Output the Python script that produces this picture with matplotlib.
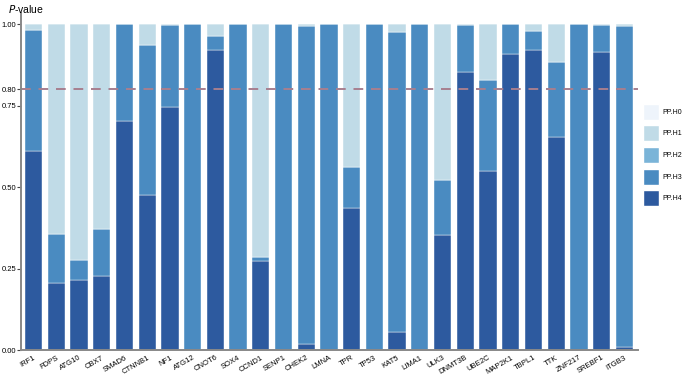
import matplotlib.pyplot as plt
from matplotlib.patches import Patch
import numpy as np

plt.rcParams['font.family'] = ['Liberation Sans', 'DejaVu Sans']

# genes and colocalisation posterior probabilities
genes = ["IRF1", "FDPS", "ATG10", "CBX7", "SMAD6", "CTNNB1", "NF1", "ATG12", "CNOT6",
         "SOX4", "CCND1", "SENP1", "CHEK2", "LMNA", "TPR", "TP53", "KAT5", "LIMA1",
         "ULK3", "DNMT3B", "UBE2C", "MAP2K1", "TBPL1", "TTK", "ZNF217", "SREBF1", "ITGB3"]
pp_h4 = [0.61, 0.205, 0.216, 0.227, 0.703, 0.475, 0.747, 0.0, 0.921,
         0.0, 0.273, 0.0, 0.017, 0.0, 0.437, 0.0, 0.055, 0.0,
         0.353, 0.852, 0.549, 0.909, 0.922, 0.653, 0.0, 0.915, 0.008]
pp_h3 = [0.372, 0.150, 0.061, 0.143, 0.297, 0.460, 0.250, 1.0, 0.043,
         1.0, 0.013, 1.0, 0.978, 1.0, 0.126, 1.0, 0.921, 1.0,
         0.169, 0.146, 0.279, 0.091, 0.057, 0.230, 1.0, 0.081, 0.987]
pp_h2 = [0.0] * 27
pp_h1 = [0.018, 0.645, 0.723, 0.630, 0.0, 0.065, 0.003, 0.0, 0.036,
         0.0, 0.714, 0.0, 0.005, 0.0, 0.437, 0.0, 0.024, 0.0,
         0.478, 0.002, 0.172, 0.0, 0.021, 0.117, 0.0, 0.004, 0.005]
pp_h0 = [0.0] * 27

labels = ["PP.H0", "PP.H1", "PP.H2", "PP.H3", "PP.H4"]
colors = ["#eef4fb", "#c0dbe7", "#7ab4d8", "#4a8bc1", "#2d5a9f"]

fig = plt.figure(figsize=(6.85, 3.76), dpi=100)
ax = fig.add_axes([0.0307, 0.0691, 0.9007, 0.897])

x = np.arange(len(genes))
series = [pp_h4, pp_h3, pp_h2, pp_h1, pp_h0]
series_colors = [colors[4], colors[3], colors[2], colors[1], colors[0]]
bottom = np.zeros(len(genes))
for vals, c in zip(series, series_colors):
    vals = np.array(vals)
    ax.bar(x, vals, bottom=bottom, width=0.76, color=c, edgecolor='white', linewidth=0.3)
    bottom += vals

ax.axhline(0.8, color='#a77f8f', linestyle=(0, (5, 4)), linewidth=1.4)

ax.set_xlim(-0.55, 26.6)
ax.set_ylim(0, 1.035)
ax.set_yticks([0, 0.25, 0.5, 0.75, 0.8, 1.0])
ax.set_yticklabels(["0.00", "0.25", "0.50", "0.75", "0.80", "1.00"])
ax.set_xticks(x)
ax.set_xticklabels(genes, rotation=30, ha='right', rotation_mode='anchor')
ax.tick_params(axis='y', labelsize=5.5, length=3, width=0.8, color='#444444', pad=0.5)
ax.tick_params(axis='x', labelsize=5.5, length=0, pad=3)
for s in ['top', 'right']:
    ax.spines[s].set_visible(False)
for s in ['left', 'bottom']:
    ax.spines[s].set_color('#888888')
    ax.spines[s].set_linewidth(1.4)

fig.text(0.012, 0.977, "$\\it{P}$-value", fontsize=7.5, va='center', ha='left')

handles = [Patch(facecolor=c, edgecolor='white') for c in colors]
fig.legend(handles, labels, loc='center left', bbox_to_anchor=(0.934, 0.588),
           frameon=False, fontsize=5, handlelength=2.3, handleheight=3.16,
           labelspacing=0.82, handletextpad=0.6, borderaxespad=0)

fig.savefig("out.png", dpi=100)
